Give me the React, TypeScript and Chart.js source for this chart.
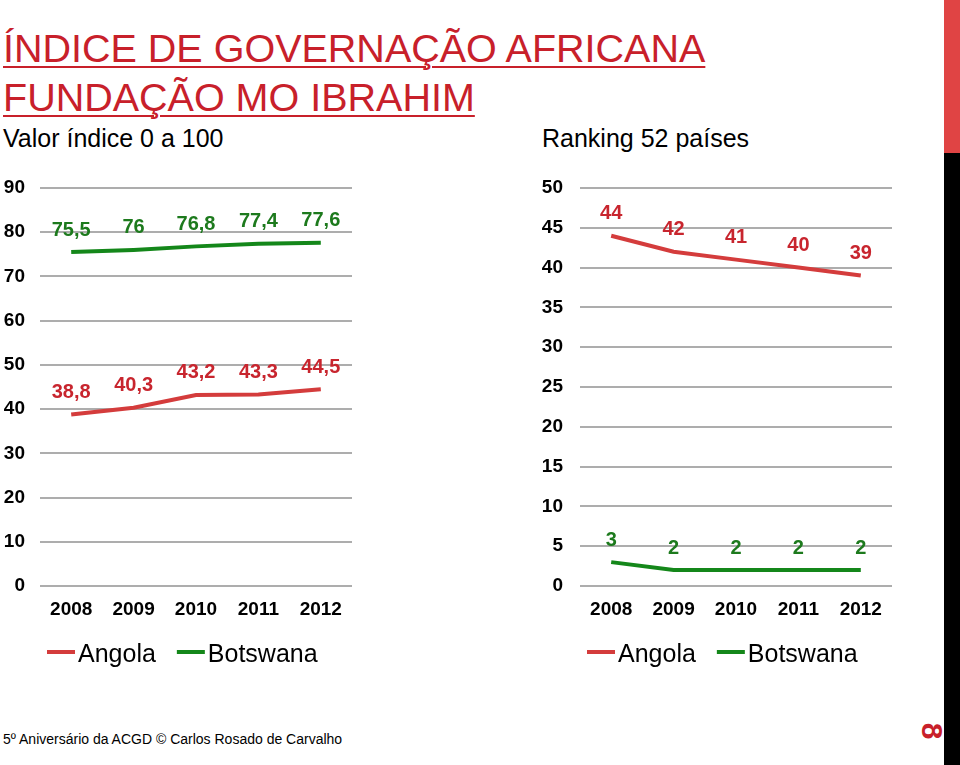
import React, { useEffect, useRef } from "react";
import { Chart, registerables } from "chart.js";

Chart.register(...registerables);

// ---- data ----
const years = ["2008", "2009", "2010", "2011", "2012"];
const seriesNames = ["Angola", "Botswana"];
const angolaIndex = [38.8, 40.3, 43.2, 43.3, 44.5];
const botswanaIndex = [75.5, 76, 76.8, 77.4, 77.6];
const angolaRank = [44, 42, 41, 40, 39];
const botswanaRank = [3, 2, 2, 2, 2];
const indexAxis = { min: 0, max: 90, step: 10 };
const rankAxis = { min: 0, max: 50, step: 5 };

// ---- styles ----
const FONT = "'Liberation Sans', Arial, Helvetica, sans-serif";
const RED_LINE = "#d43c3c";
const GREEN_LINE = "#14871a";
const RED_TEXT = "#c8252e";
const GREEN_TEXT = "#1d7a1d";
const GRID = "#adadad";

const valueLabels = {
  id: "valueLabels",
  afterDatasetsDraw(chart: any) {
    const ctx = chart.ctx;
    ctx.save();
    ctx.font = `bold 20px ${FONT}`;
    ctx.textAlign = "center";
    ctx.textBaseline = "middle";
    chart.data.datasets.forEach((ds: any, i: number) => {
      const meta = chart.getDatasetMeta(i);
      ctx.fillStyle = ds.labelColor;
      meta.data.forEach((pt: any, j: number) => {
        const v = ds.data[j];
        ctx.fillText(String(v).replace(".", ","), pt.x, pt.y - 22);
      });
    });
    ctx.restore();
  },
};

const lineLegend = {
  id: "lineLegend",
  afterDraw(chart: any, _args: any, opts: any) {
    const ctx = chart.ctx;
    ctx.save();
    ctx.font = `25px ${FONT}`;
    ctx.textBaseline = "middle";
    ctx.textAlign = "left";
    let x = chart.chartArea.left + (opts.offsetX || 0);
    const y = chart.chartArea.bottom + (opts.offsetY || 0);
    chart.data.datasets.forEach((ds: any) => {
      ctx.strokeStyle = ds.borderColor;
      ctx.lineWidth = 4;
      ctx.beginPath();
      ctx.moveTo(x, y - 3);
      ctx.lineTo(x + 28, y - 3);
      ctx.stroke();
      x += 31;
      ctx.fillStyle = "#000";
      ctx.fillText(ds.label, x, y);
      x += ctx.measureText(ds.label).width + 21;
    });
    ctx.restore();
  },
};

function makeConfig(a: number[], b: number[], axis: any, yWidth: number, yPad: number) {
  return {
    type: "line",
    data: {
      labels: years,
      datasets: [
        {
          label: seriesNames[0],
          data: a,
          borderColor: RED_LINE,
          backgroundColor: RED_LINE,
          labelColor: RED_TEXT,
          borderWidth: 4,
          pointRadius: 0,
          tension: 0,
        },
        {
          label: seriesNames[1],
          data: b,
          borderColor: GREEN_LINE,
          backgroundColor: GREEN_LINE,
          labelColor: GREEN_TEXT,
          borderWidth: 4,
          pointRadius: 0,
          tension: 0,
        },
      ],
    },
    options: {
      responsive: false,
      animation: false,
      events: [],
      layout: { padding: { top: 18, right: 18, bottom: 50, left: 0 } },
      scales: {
        x: {
          offset: true,
          grid: { display: false, drawTicks: false },
          border: { display: false },
          ticks: { color: "#000", padding: 12, font: { family: FONT, size: 19, weight: "bold" } },
          afterFit(s: any) {
            s.height = 44;
          },
        },
        y: {
          min: axis.min,
          max: axis.max,
          grid: { color: GRID, lineWidth: 2, drawTicks: false },
          border: { display: false },
          ticks: {
            stepSize: axis.step,
            color: "#000",
            padding: yPad,
            font: { family: FONT, size: 19, weight: "bold" },
          },
          afterFit(s: any) {
            s.width = yWidth;
            s.paddingTop = 0;
            s.paddingBottom = 0;
          },
        },
      },
      plugins: {
        legend: { display: false },
        tooltip: { enabled: false },
        lineLegend: { offsetX: 7, offsetY: 69 },
      },
    },
    plugins: [valueLabels, lineLegend],
  };
}

function LineChart({ config, left, top, width, height }: any) {
  const ref = useRef<HTMLCanvasElement | null>(null);
  useEffect(() => {
    if (!ref.current) return;
    const chart = new Chart(ref.current, config);
    return () => chart.destroy();
  }, []);
  return (
    <canvas
      ref={ref}
      width={width}
      height={height}
      style={{ position: "absolute", left, top, width, height }}
    />
  );
}

export default function App() {
  const leftCfg = makeConfig(angolaIndex, botswanaIndex, indexAxis, 40, 15);
  const rightCfg = makeConfig(angolaRank, botswanaRank, rankAxis, 50, 17);
  return (
    <div
      style={{
        position: "absolute",
        left: 0,
        top: 0,
        width: 960,
        height: 765,
        overflow: "hidden",
        background: "#fff",
        fontFamily: FONT,
      }}
    >
      <div
        style={{
          position: "absolute",
          left: 3,
          top: 24,
          fontSize: 39.5,
          lineHeight: "49px",
          color: "#c8202a",
          textDecoration: "underline",
          textDecorationThickness: "2px",
          textUnderlineOffset: "4px",
          whiteSpace: "nowrap",
        }}
      >
        ÍNDICE DE GOVERNAÇÃO AFRICANA
        <br />
        FUNDAÇÃO MO IBRAHIM
      </div>
      <div style={{ position: "absolute", left: 3, top: 123, fontSize: 25, lineHeight: "30px", color: "#000" }}>
        Valor índice 0 a 100
      </div>
      <div style={{ position: "absolute", left: 542, top: 123, fontSize: 25, lineHeight: "30px", color: "#000" }}>
        Ranking 52 países
      </div>
      <LineChart config={leftCfg} left={0} top={170} width={370} height={510} />
      <LineChart config={rightCfg} left={530} top={170} width={380} height={510} />
      <div
        style={{
          position: "absolute",
          left: 3,
          top: 729,
          fontSize: 14,
          lineHeight: "20px",
          color: "#000",
          whiteSpace: "nowrap",
        }}
      >
        5º Aniversário da ACGD © Carlos Rosado de Carvalho
      </div>
      <div style={{ position: "absolute", left: 944, top: 0, width: 16, height: 153, background: "#e04444" }} />
      <div style={{ position: "absolute", left: 944, top: 153, width: 16, height: 612, background: "#000" }} />
      <div
        style={{
          position: "absolute",
          left: 917,
          top: 714,
          width: 30,
          height: 34,
          lineHeight: "34px",
          textAlign: "center",
          fontSize: 30,
          fontWeight: "bold",
          color: "#c8202a",
          transform: "rotate(90deg)",
        }}
      >
        8
      </div>
    </div>
  );
}
